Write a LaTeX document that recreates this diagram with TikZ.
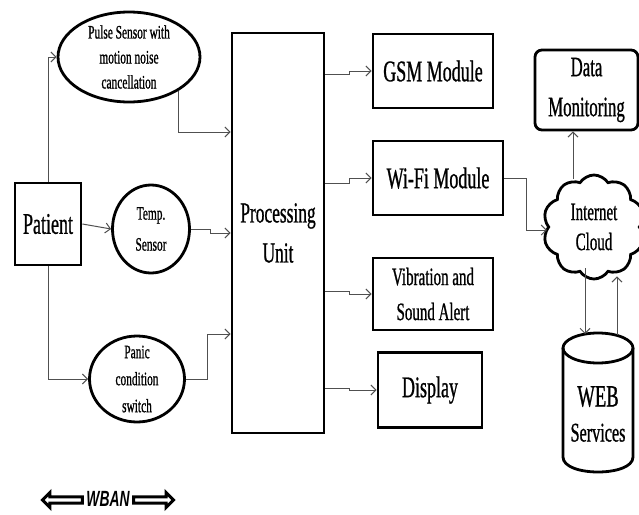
\documentclass[tikz,border=0pt]{standalone}
\usepackage{fontspec}
\setmainfont[FakeStretch=0.6,FakeBold=0.8]{Liberation Serif}
\newfontfamily\wbanfont[FakeStretch=0.63]{Liberation Sans}
\usetikzlibrary{arrows.meta,shapes.geometric,shapes.symbols,shapes.arrows}
\definecolor{connc}{RGB}{80,80,80}
\begin{document}
\begin{tikzpicture}[x=1pt,y=-1pt,
  box/.style={draw, line width=2.8pt, inner sep=0pt, align=center, text=black},
  sens/.style={draw, ellipse, line width=2.8pt, inner sep=0pt},
  lbl/.style={inner sep=0pt, align=center, text=black},
  conn/.style={draw=connc, line width=1pt, -{Straight Barb[length=5pt,width=10pt,line width=1pt]}},
  fbig/.style={font=\fontsize{30}{40}\selectfont},
  fmid/.style={font=\fontsize{25}{35}\selectfont},
  fsmall/.style={font=\fontsize{19}{25}\selectfont},
  warrow/.style={single arrow, draw, line width=3pt, minimum height=40pt, minimum width=15pt,
    single arrow head extend=3.5pt, inner sep=1pt}
]
\useasboundingbox (0,0) rectangle (639,514);
\clip (0,0) rectangle (639,514);

% left part
\node[box, fbig, minimum width=66pt, minimum height=82pt] (patient) at (48,224) {Patient};
\node[sens, minimum width=142pt, minimum height=90pt,
  label={[lbl,fsmall]center:Pulse Sensor with\\motion noise\\cancellation}] (pulse) at (129,57) {};
\node[sens, minimum width=77pt, minimum height=88pt,
  label={[lbl,font=\fontsize{19}{31}\selectfont]center:Temp.\\Sensor}] (temp) at (151,229) {};
\node[sens, minimum width=95pt, minimum height=86pt,
  label={[lbl,font=\fontsize{19}{27}\selectfont]center:Panic\\condition\\switch}] (panic) at (137,379) {};

% processing unit
\node[box, font=\fontsize{29}{40}\selectfont, minimum width=92pt, minimum height=400pt] (pu) at (278,233) {Processing\\Unit};

% output modules
\node[box, fbig, minimum width=120pt, minimum height=74pt] (gsm) at (433,71) {GSM Module};
\node[box, fbig, minimum width=130pt, minimum height=74pt] (wifi) at (438,178) {Wi-Fi Module};
\node[box, fmid, minimum width=120pt, minimum height=72pt] (vib) at (433,294) {Vibration and\\Sound Alert};
\node[box, fbig, minimum width=104pt, minimum height=75pt] (disp) at (430,390) {Display};

% right part
\node[box, rounded corners=7pt, font=\fontsize{28}{40}\selectfont, minimum width=103pt, minimum height=80pt] (dm) at (586.5,90) {Data\\Monitoring};
\node[draw, cloud, cloud puffs=10, cloud puff arc=115, line width=2.8pt, minimum width=102pt, minimum height=104pt, inner sep=0pt, aspect=1,
  label={[lbl,font=\fontsize{25}{30}\selectfont]center:Internet\\Cloud}] (cloud) at (594,227) {};
\draw[line width=2.8pt] (598,348) ellipse [x radius=35, y radius=15];
\draw[line width=2.8pt] (563,348) -- (563,457) .. controls (563,477) and (633,477) .. (633,457) -- (633,348);
\node[lbl, minimum width=70pt, minimum height=124pt, font=\fontsize{27}{35}\selectfont] (web) at (598,414)
  {{\fontsize{31}{35}\selectfont WEB}\\Services};
\coordinate (cylA) at (585,334);
\coordinate (cylB) at (617,335);

% connectors
\draw[conn] (patient.north) |- (pulse.west);
\draw[conn] (pulse.-34) |- ([yshift=101pt]pu.west);
\draw[conn] (patient.east) -- (temp.west);
\draw[conn] (temp.east) -- ++(20,0) |- (pu.west);
\draw[conn] (patient.south) |- (panic.west);
\draw[conn] (panic.east) -- ++(22,0) |- ([yshift=-101pt]pu.west);
\draw[conn] ([yshift=159pt]pu.east) -- ++(24,0) |- (gsm.west);
\draw[conn] ([yshift=50pt]pu.east) -- ++(24,0) |- (wifi.west);
\draw[conn] ([yshift=-58pt]pu.east) -- ++(24,0) |- (vib.west);
\draw[conn] ([yshift=-155pt]pu.east) -- ++(24,0) |- (disp.west);
\draw[conn] (wifi.east) -- ++(22,0) |- ([yshift=-3pt]cloud.west);
\draw[conn] ([xshift=-21pt,yshift=-5pt]cloud.north) -- ([xshift=-13.5pt]dm.south);
\draw[conn] ([xshift=-9pt,yshift=12pt]cloud.south) -- (cylA);
\draw[conn] (cylB) -- ([xshift=23pt,yshift=4pt]cloud.south);

% WBAN legend
\node[warrow, shape border rotate=180] (wl) at (64,500) {};
\node[inner sep=0pt, font=\wbanfont\bfseries\itshape\fontsize{22}{22}\selectfont] (wban) at (108,499) {WBAN};
\node[warrow] (wr) at (152,500) {};
\end{tikzpicture}
\end{document}
